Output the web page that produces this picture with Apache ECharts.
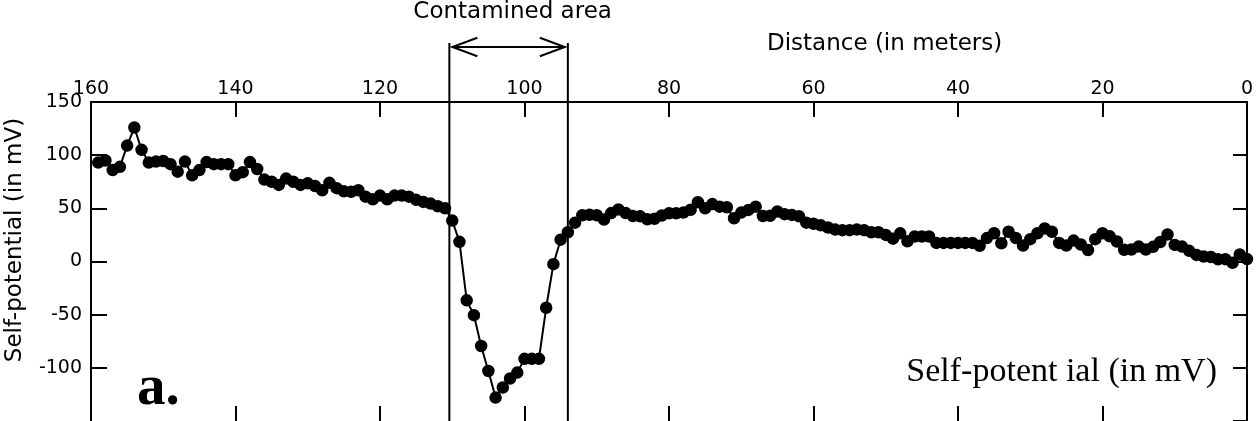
<!DOCTYPE html>
<html>
<head>
<meta charset="utf-8">
<script src="https://cdn.jsdelivr.net/npm/echarts@6/dist/echarts.min.js"></script>
<style>
html,body{margin:0;padding:0;background:#fff;}
#chart{width:1258px;height:421px;}
</style>
</head>
<body>
<div id="chart"></div>
<script>
// Distance along the profile (m)
const distances = [
 159,158,157,156,155,154,153,152,151,150,149,148,147,146,145,144,143,142,141,140,
 139,138,137,136,135,134,133,132,131,130,129,128,127,126,125,124,123,122,121,120,
 119,118,117,116,115,114,113,112,111,110,109,108,107,106,105,104,103,102,101,100,
 99,98,97,96,95,94,93,92,91,90,89,88,87,86,85,84,83,82,81,80,
 79,78,77,76,75,74,73,72,71,70,69,68,67,66,65,64,63,62,61,60,
 59,58,57,56,55,54,53,52,51,50,49,48,47,46,45,44,43,42,41,40,
 39,38,37,36,35,34,33,32,31,30,29,28,27,26,25,24,23,22,21,20,
 19,18,17,16,15,14,13,12,11,10,9,8,7,6,5,4,3,2,1,0
];
// Self-potential (mV)
const selfPotential = [
 93,95,86,89,109,126,105,93,94,94.5,91.5,84.5,94,81,86,93.5,91.5,91.5,91.5,81,
 84,93.5,87,77,75,72,78,75,72,73.5,71,67,74,69,66,65.5,67,61,58.5,62,
 58.5,62,62,61,58,56,54.5,52,50,38.5,18.5,-36.5,-50.5,-79.5,-103,-128,-118.5,-110,-104.5,-91.5,
 -91.5,-91.5,-43.5,-2.5,20.5,27.5,36.5,43.5,44,43.5,39.5,45.5,49,45.5,42.8,42.5,39.7,40.2,43.3,45.3,
 45.4,46,48.7,55.8,50,54,51.6,51,40.7,46,48.5,51.6,42.8,43,47,44.5,43.8,42.5,36.5,35.5,
 34,32,30,29.5,29.5,30,29.5,27.5,27.5,25,21.5,26.5,19,23.5,23.5,23.5,17.5,17.5,17.5,17.5,
 17.5,17.5,14.8,22,26.6,17.2,28,22,15,21,26.6,31,28,17.5,15,19.7,16,10.7,21,26.6,
 23.7,18.8,11,11.3,14,11.3,13.8,18.3,25.5,15.6,14,10,6.2,4.7,4.2,2,2.2,-1.2,6.6,2.3
];
// Contaminated area limits (m)
const contaminatedRange = [110.4, 94.0];
// Axis settings
const xRange = [0, 160];
const xStep = 20;
const yRange = [-150, 150];
const yStep = 50;

const texts = {
  top: 'Contamined area',
  xName: 'Distance (in meters)',
  yName: 'Self-potential (in mV)',
  panel: 'a.',
  inner: 'Self-potent ial (in mV)'
};

const chart = echarts.init(document.getElementById('chart'));
const seriesData = distances.map((d, i) => [d, selfPotential[i]]);
const labelFont = { color: '#000', fontSize: 19, fontFamily: 'DejaVu Sans' };
const axisLineStyle = { color: '#000', width: 2 };

const option = {
  animation: false,
  backgroundColor: '#fff',
  grid: { left: 91, right: 11, top: 102, height: 320, containLabel: false },
  xAxis: [
    {
      type: 'value', position: 'top', min: xRange[0], max: xRange[1], interval: xStep, inverse: true,
      axisLine: { show: true, onZero: false, lineStyle: axisLineStyle },
      axisTick: { show: true, inside: true, length: 15, lineStyle: { color: '#000', width: 2 } },
      axisLabel: Object.assign({ margin: 3 }, labelFont),
      splitLine: { show: false }
    },
    {
      type: 'value', position: 'bottom', min: xRange[0], max: xRange[1], interval: xStep, inverse: true,
      axisLine: { show: false, onZero: false, lineStyle: axisLineStyle },
      axisTick: { show: true, inside: true, length: 15, lineStyle: { color: '#000', width: 2 } },
      axisLabel: { show: false },
      splitLine: { show: false }
    }
  ],
  yAxis: [
    {
      type: 'value', position: 'left', min: yRange[0], max: yRange[1], interval: yStep,
      axisLine: { show: true, onZero: false, lineStyle: axisLineStyle },
      axisTick: { show: true, inside: true, length: 16, lineStyle: { color: '#000', width: 2 } },
      axisLabel: Object.assign({ margin: 9, showMinLabel: false }, labelFont),
      splitLine: { show: false }
    },
    {
      type: 'value', position: 'right', min: yRange[0], max: yRange[1], interval: yStep,
      axisLine: { show: true, onZero: false, lineStyle: axisLineStyle },
      axisTick: { show: true, inside: true, length: 14, lineStyle: { color: '#000', width: 2 } },
      axisLabel: { show: false },
      splitLine: { show: false }
    }
  ],
  series: [{
    type: 'line',
    xAxisIndex: 0,
    yAxisIndex: 0,
    data: seriesData,
    clip: false,
    showAllSymbol: true,
    symbol: 'circle',
    symbolSize: 11,
    itemStyle: { color: '#000', borderColor: '#000', borderWidth: 1.5 },
    lineStyle: { color: '#000', width: 2 }
  }]
};
chart.setOption(option);

const xa = chart.convertToPixel({ xAxisIndex: 0 }, contaminatedRange[0]);
const xb = chart.convertToPixel({ xAxisIndex: 0 }, contaminatedRange[1]);
const topY = 43;
const arrowY = 47;
const headLen = 25, headHalf = 9.3;
const stroke = { stroke: '#000', lineWidth: 2, fill: null };

chart.setOption({
  graphic: [
    { type: 'line', shape: { x1: xa, y1: topY, x2: xa, y2: 421 }, style: stroke },
    { type: 'line', shape: { x1: xb, y1: topY, x2: xb, y2: 421 }, style: stroke },
    { type: 'line', shape: { x1: xa + 3, y1: arrowY, x2: xb - 3, y2: arrowY }, style: stroke },
    { type: 'polyline', shape: { points: [[xa + 3 + headLen, arrowY - headHalf], [xa + 3, arrowY], [xa + 3 + headLen, arrowY + headHalf]] }, style: stroke },
    { type: 'polyline', shape: { points: [[xb - 3 - headLen, arrowY - headHalf], [xb - 3, arrowY], [xb - 3 - headLen, arrowY + headHalf]] }, style: stroke },
    { type: 'text', x: (xa + xb) / 2 + 4, y: 12,
      style: { text: texts.top, fill: '#000', fontSize: 23, fontFamily: 'DejaVu Sans', align: 'center', verticalAlign: 'middle' } },
    { type: 'text', x: 767, y: 44,
      style: { text: texts.xName, fill: '#000', fontSize: 23, fontFamily: 'DejaVu Sans', align: 'left', verticalAlign: 'middle' } },
    { type: 'text', x: 15, y: 240, rotation: Math.PI / 2,
      style: { text: texts.yName, fill: '#000', fontSize: 23, fontFamily: 'DejaVu Sans', align: 'center', verticalAlign: 'middle' } },
    { type: 'text', x: 137, y: 389,
      style: { text: texts.panel, fill: '#000', fontSize: 57, fontWeight: 'bold', fontFamily: 'Liberation Serif', align: 'left', verticalAlign: 'middle' } },
    { type: 'text', x: 1217, y: 372,
      style: { text: texts.inner, fill: '#000', fontSize: 34, fontFamily: 'Liberation Serif', align: 'right', verticalAlign: 'middle' } }
  ]
});
</script>
</body>
</html>
